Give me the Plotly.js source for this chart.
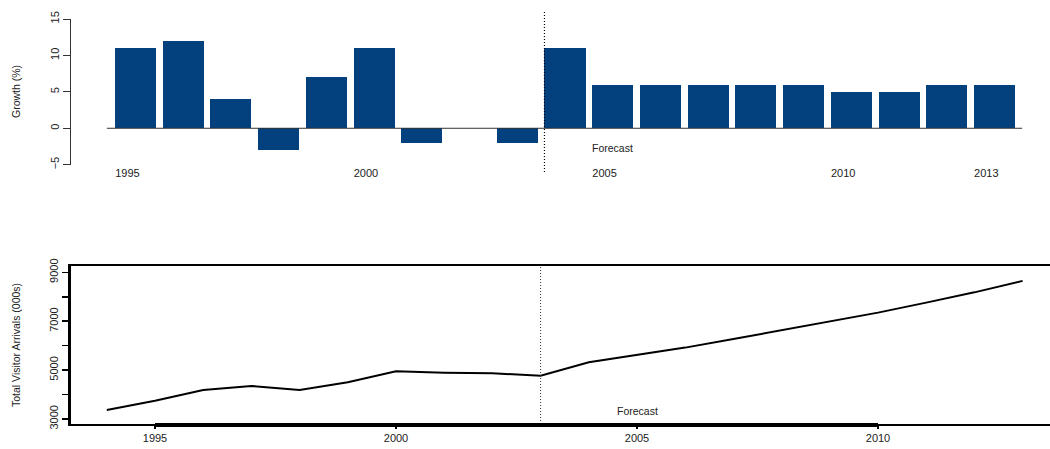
<!DOCTYPE html>
<html>
<head>
<meta charset="utf-8">
<script src="https://cdn.plot.ly/plotly-3.0.1.min.js"></script>
<style>
html, body { margin: 0; padding: 0; overflow: hidden; background: #fff; }
#chart { width: 1066px; height: 449px; }
</style>
</head>
<body>
<div id="chart"></div>
<script>
// ---- data ----
const growthYears = [1995,1996,1997,1998,1999,2000,2001,2002,2003,2004,2005,2006,2007,2008,2009,2010,2011,2012,2013];
const growthPct   = [11,12,4,-3,7,11,-2,0,-2,11,6,6,6,6,6,5,5,6,6];
const growthTickYears = [1995,2000,2005,2010,2013];

const arrivalYears = [1994,1995,1996,1997,1998,1999,2000,2001,2002,2003,2004,2005,2006,2007,2008,2009,2010,2011,2012,2013];
const arrivals     = [3370,3750,4190,4350,4190,4500,4950,4890,4870,4770,5320,5620,5920,6270,6630,6980,7350,7760,8180,8650];
const arrivalTickYears = [1995,2000,2005,2010];
const arrivalTickVals  = [3000,4000,5000,6000,7000,8000,9000];
const arrivalTickText  = ['3000','','5000','','7000','','9000'];

const lastActualYear = 2003;
const firstForecastYear = 2004;
const forecastLabel = 'Forecast';

// ---- layout geometry ----
const W = 1066, H = 449;
const ML = 71, MR = 7;
const plotW = W - ML - MR;
const pyFrac = px => 1 - px / H;

const barW = 0.86;
// top axis: 47.72 px per year, first bar centre at x=135.5
const topPxPerYr = 47.72;
const topX0 = growthYears[0] - (135.5 - ML) / topPxPerYr;
const topX1 = topX0 + plotW / topPxPerYr;
// bottom axis: 48.2 px per year, 1995 at x=155
const botPxPerYr = 48.2;
const botX0 = arrivalTickYears[0] - (155 - ML) / botPxPerYr;
const botX1 = botX0 + plotW / botPxPerYr;

const font = 'Liberation Sans, Arial, Helvetica, sans-serif';
const txt = '#222';

const traces = [
  {
    type: 'bar', x: growthYears, y: growthPct, width: barW,
    marker: { color: '#02407e', line: { width: 0 } },
    xaxis: 'x', yaxis: 'y', hoverinfo: 'x+y'
  },
  {
    type: 'scatter', mode: 'lines', x: arrivalYears, y: arrivals,
    line: { color: '#000', width: 2 },
    xaxis: 'x2', yaxis: 'y2', hoverinfo: 'x+y'
  }
];

const layout = {
  width: W, height: H,
  margin: { l: ML, r: MR, t: 0, b: 0 },
  paper_bgcolor: '#fff', plot_bgcolor: 'rgba(0,0,0,0)',
  showlegend: false,
  bargap: 0,
  font: { family: font, size: 11, color: txt },
  xaxis: {
    domain: [0, 1], range: [topX0, topX1],
    showline: false, showgrid: false, zeroline: false, ticks: '',
    tickmode: 'array',
    tickvals: growthTickYears.map(v => v - 0.17),
    ticktext: growthTickYears.map(String),
    tickfont: { family: font, size: 11, color: txt },
    anchor: 'y', fixedrange: true
  },
  yaxis: {
    domain: [pyFrac(164.7), pyFrac(19)], range: [-5, 15],
    showline: true, linecolor: '#333', linewidth: 1,
    showgrid: false, zeroline: false,
    ticks: 'outside', ticklen: 7, tickwidth: 1, tickcolor: '#333',
    tickmode: 'array', tickvals: [-5, 0, 5, 10, 15],
    tickangle: -90, tickfont: { family: font, size: 11, color: txt },
    anchor: 'x', fixedrange: true
  },
  xaxis2: {
    domain: [0, 1], range: [botX0, botX1],
    showline: true, linecolor: '#000', linewidth: 2, mirror: true,
    showgrid: false, zeroline: false,
    ticks: 'outside', ticklen: 3, tickwidth: 2, tickcolor: '#000',
    tickmode: 'array', tickvals: arrivalTickYears, ticktext: arrivalTickYears.map(String),
    tickfont: { family: font, size: 11, color: txt },
    anchor: 'y2', fixedrange: true
  },
  yaxis2: {
    domain: [pyFrac(424), pyFrac(266)],
    range: [3000 - 5 / 0.02445, 9000 + 6.3 / 0.02445],
    showline: true, linecolor: '#000', linewidth: 3, mirror: true,
    showgrid: false, zeroline: false,
    ticks: 'outside', ticklen: 6, tickwidth: 1.5, tickcolor: '#000',
    tickmode: 'array', tickvals: arrivalTickVals, ticktext: arrivalTickText,
    tickangle: -90, tickfont: { family: font, size: 11, color: txt },
    anchor: 'x2', fixedrange: true
  },
  shapes: [
    // zero baseline of the bar chart
    { type: 'line', xref: 'x', yref: 'y',
      x0: growthYears[0] - 0.6, x1: growthYears[growthYears.length - 1] + 0.58, y0: 0, y1: 0,
      line: { color: '#333', width: 1 } },
    // forecast divider (top)
    { type: 'line', xref: 'x', yref: 'paper',
      x0: firstForecastYear - barW / 2, x1: firstForecastYear - barW / 2,
      y0: pyFrac(172), y1: pyFrac(12),
      line: { color: '#000', width: 1.2, dash: '1px,2px' } },
    // forecast divider (bottom)
    { type: 'line', xref: 'x2', yref: 'y2 domain',
      x0: lastActualYear, x1: lastActualYear, y0: 0, y1: 1,
      line: { color: '#333', width: 1, dash: '1px,2px' } },
    // heavier axis segment between labelled ticks (bottom)
    { type: 'line', xref: 'x2', yref: 'paper',
      x0: arrivalTickYears[0], x1: arrivalTickYears[arrivalTickYears.length - 1],
      y0: pyFrac(425), y1: pyFrac(425),
      line: { color: '#000', width: 4 } }
  ],
  annotations: [
    { xref: 'x', yref: 'y', x: firstForecastYear + 1, y: -2.7, text: forecastLabel,
      showarrow: false, font: { family: font, size: 10.5, color: txt } },
    { xref: 'x2', yref: 'y2', x: firstForecastYear + 1, y: 3330, text: forecastLabel,
      showarrow: false, font: { family: font, size: 10.5, color: txt } },
    { xref: 'paper', yref: 'paper', x: (16 - ML) / plotW, y: pyFrac(92), text: 'Growth (%)',
      textangle: -90, showarrow: false, xanchor: 'center', yanchor: 'middle',
      font: { family: font, size: 10.5, color: txt } },
    { xref: 'paper', yref: 'paper', x: (16 - ML) / plotW, y: pyFrac(345), text: 'Total Visitor Arrivals (000s)',
      textangle: -90, showarrow: false, xanchor: 'center', yanchor: 'middle',
      font: { family: font, size: 10.5, color: txt } }
  ]
};

Plotly.newPlot('chart', traces, layout, { displayModeBar: false, staticPlot: true });
</script>
</body>
</html>
